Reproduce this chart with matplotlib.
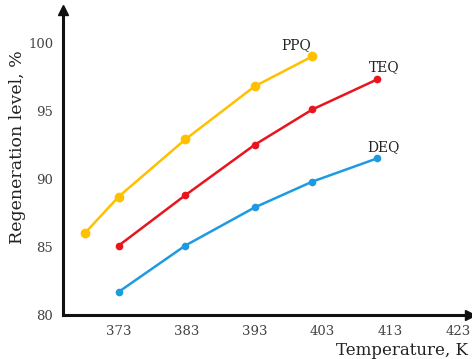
import matplotlib
matplotlib.use("Agg")
import matplotlib.pyplot as plt

# Data
ppq_x = [368, 373, 382.8, 393, 401.5]
ppq_y = [86.0, 88.7, 92.9, 96.8, 99.0]
teq_x = [373, 382.8, 393, 401.5, 411]
teq_y = [85.1, 88.8, 92.5, 95.1, 97.3]
deq_x = [373, 382.8, 393, 401.5, 411]
deq_y = [81.7, 85.1, 87.9, 89.8, 91.5]
xticks = [373, 383, 393, 403, 413, 423]
yticks = [80, 85, 90, 95, 100]

plt.rcParams['font.family'] = ['DejaVu Serif']

fig = plt.figure(figsize=(4.72, 3.59), dpi=100)
ax = fig.add_axes([0.1335, 0.1226, 0.8625, 0.8494])

ax.plot(ppq_x, ppq_y, color='#FFC000', lw=1.8, marker='o', ms=6, clip_on=False)
ax.plot(teq_x, teq_y, color='#E8141E', lw=1.8, marker='o', ms=4.5, clip_on=False)
ax.plot(deq_x, deq_y, color='#1E9BE0', lw=1.8, marker='o', ms=4.5, clip_on=False)

ax.text(399.1, 99.8, 'PPQ', ha='center', va='center', fontsize=10, color='#222222')
ax.text(412.1, 98.2, 'TEQ', ha='center', va='center', fontsize=10, color='#222222')
ax.text(412.0, 92.3, 'DEQ', ha='center', va='center', fontsize=10, color='#222222')

ax.set_xlim(364.8, 424.7)
ax.set_ylim(80, 102.4)
ax.set_xticks(xticks)
ax.set_yticks(yticks)
ax.tick_params(length=0, labelsize=9.5, colors='#444444', pad=7)

for s in ['top', 'right']:
    ax.spines[s].set_visible(False)
for s in ['left', 'bottom']:
    ax.spines[s].set_linewidth(2.2)
    ax.spines[s].set_color('#111111')

# arrow heads
ax.plot(1, 0, '>', color='#111111', ms=7, transform=ax.transAxes, clip_on=False)
ax.plot(0, 1, '^', color='#111111', ms=7, transform=ax.transAxes, clip_on=False)

ax.set_ylabel('Regeneration level, %', fontsize=12.5, color='#222222')
ax.yaxis.set_label_coords(-0.09, 0.55)
fig.text(0.992, 0.025, 'Temperature, K', ha='right', va='center', fontsize=12, color='#222222')

fig.savefig('out.png', dpi=100)
